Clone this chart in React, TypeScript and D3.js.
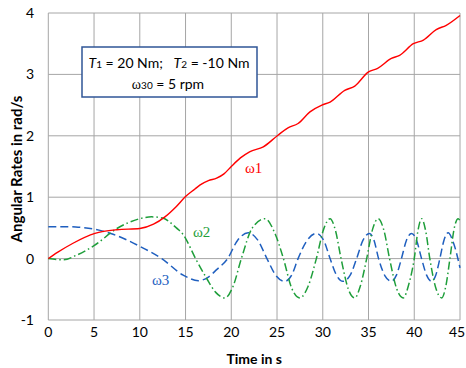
import React from "react";
import * as d3 from "d3";

const xTicks = [0, 5, 10, 15, 20, 25, 30, 35, 40, 45];
const yTicks = [-1, 0, 1, 2, 3, 4];

const tW1 = [0, 1, 2.7, 5.1, 7.5, 10, 11.5, 12.75, 14, 15, 16, 16.6, 17.5, 18.4, 19.2, 20, 21, 22, 23.5, 25.1, 26.2, 27.3, 28.6, 29.9, 30.8, 32.4, 33.5, 35, 36, 37.5, 38.4, 39.9, 41, 42.4, 43.5, 45];
const w1 = [0, 0.1, 0.25, 0.41, 0.47, 0.49, 0.56, 0.68, 0.85, 1.01, 1.13, 1.2, 1.27, 1.31, 1.38, 1.5, 1.64, 1.74, 1.82, 2.01, 2.13, 2.2, 2.39, 2.5, 2.55, 2.74, 2.81, 3.04, 3.1, 3.26, 3.31, 3.5, 3.56, 3.73, 3.8, 3.96];

const tW2 = [0, 1.7, 3, 5, 7.5, 10, 11.3, 12.5, 14, 14.75, 15, 16.1, 17.3, 18.3, 19.3, 20.2, 21.1, 22.3, 23.7, 24.8, 25.7, 26.6, 27.5, 28.4, 29.3, 30.1, 30.8, 31.4, 32.0, 32.8, 33.5, 34.1, 34.8, 35.45, 36.05, 36.7, 37.3, 38.1, 38.8, 39.4, 40.0, 40.4, 40.8, 41.25, 41.7, 42.4, 43.0, 43.45, 43.9, 44.35, 44.8, 45];
const w2 = [0, -0.02, 0.05, 0.21, 0.49, 0.65, 0.68, 0.66, 0.5, 0.39, 0.33, 0, -0.32, -0.55, -0.64, -0.45, 0, 0.5, 0.65, 0.4, 0, -0.48, -0.64, -0.45, 0, 0.48, 0.65, 0.45, 0, -0.5, -0.64, -0.45, 0, 0.48, 0.65, 0.45, 0, -0.5, -0.64, -0.42, 0, 0.45, 0.65, 0.45, 0, -0.5, -0.64, -0.45, 0, 0.48, 0.65, 0.62];

const tW3 = [0, 2, 3, 5, 7, 10, 12.4, 14.75, 16.4, 17.5, 18.4, 19.6, 20.7, 21.85, 22.9, 23.9, 24.9, 25.85, 26.6, 27.3, 28.3, 29.3, 30.1, 30.8, 31.5, 32.2, 33.0, 33.7, 34.4, 35.1, 35.6, 36.1, 36.8, 37.5, 38.05, 38.6, 39.15, 39.7, 40.25, 40.8, 41.35, 41.9, 42.35, 42.8, 43.25, 43.7, 44.3, 45];
const w3 = [0.52, 0.52, 0.515, 0.48, 0.4, 0.2, 0, -0.27, -0.36, -0.3, -0.18, 0, 0.3, 0.42, 0.3, 0, -0.28, -0.37, -0.27, 0, 0.3, 0.41, 0.3, 0, -0.27, -0.37, -0.27, 0, 0.3, 0.41, 0.3, 0, -0.28, -0.37, -0.27, 0, 0.3, 0.41, 0.3, 0, -0.27, -0.37, -0.27, 0, 0.3, 0.42, 0.25, -0.15];

const W = 466, H = 368;
const left = 48.3, right = 460, top = 13, bottom = 320;

export default function App() {
  const x = d3.scaleLinear().domain([0, 45]).range([left, right]);
  const y = d3.scaleLinear().domain([-1, 4]).range([bottom, top]);
  const mk = (ts: number[], vs: number[]) =>
    d3.line<number>().x((_, i) => x(ts[i])).y((v) => y(v)).curve(d3.curveMonotoneX)(vs) || "";
  const font = "Lato, 'Open Sans', sans-serif";
  return (
    <svg width={W} height={H} style={{ position: "absolute", left: 0, top: 0, background: "#fff" }}>
      <g stroke="#a6a6a6" strokeWidth={1}>
        {xTicks.map((t) => (
          <line key={"x" + t} x1={x(t)} x2={x(t)} y1={top} y2={bottom} />
        ))}
        {yTicks.map((t) => (
          <line key={"y" + t} x1={left} x2={right} y1={y(t)} y2={y(t)} />
        ))}
      </g>
      <g fontFamily={font} fontSize={14} fill="#000">
        {xTicks.map((t) => (
          <text key={"xl" + t} x={Math.min(x(t), W - 9)} y={337} textAnchor="middle">{t}</text>
        ))}
        {yTicks.map((t) => (
          <text key={"yl" + t} x={34} y={y(t) + 5} textAnchor="end">{t}</text>
        ))}
        <text x={(left + right) / 2} y={364} textAnchor="middle" fontWeight="bold">Time in s</text>
        <text transform={`translate(22,169) rotate(-90)`} textAnchor="middle" fontWeight="bold" fontSize={15}>
          Angular Rates in rad/s
        </text>
      </g>
      <path d={mk(tW3, w3)} fill="none" stroke="#1f5fbf" strokeWidth={1.5} strokeDasharray="8,4" />
      <path d={mk(tW2, w2)} fill="none" stroke="#1e9e3a" strokeWidth={1.5} strokeDasharray="8,3,1.5,3" />
      <path d={mk(tW1, w1)} fill="none" stroke="#ff0000" strokeWidth={1.4} />
      <g fontFamily="'Liberation Serif', 'Times New Roman', serif" fontSize={15}>
        <text x={245} y={173} fill="#ff0000">ω1</text>
        <text x={193} y={237} fill="#1e9e3a">ω2</text>
        <text x={152} y={285} fill="#1f5fbf">ω3</text>
      </g>
      <rect x={82} y={47} width={175} height={50} fill="#fff" stroke="#2f5597" strokeWidth={1.5} />
      <g fontFamily={font} fontSize={14} fill="#000">
        <text x={169} y={68} textAnchor="middle" style={{ whiteSpace: "pre" }}>
          <tspan fontStyle="italic">T</tspan>
          <tspan fontSize={10}>1</tspan>
          <tspan>{" = 20 Nm;   "}</tspan>
          <tspan fontStyle="italic">T</tspan>
          <tspan fontSize={10}>2</tspan>
          <tspan>{" = -10 Nm"}</tspan>
        </text>
        <text x={168} y={89} textAnchor="middle" style={{ whiteSpace: "pre" }}>
          <tspan fontFamily="'Liberation Serif', serif">ω</tspan>
          <tspan fontSize={10}>30</tspan>
          <tspan>{" = 5 rpm"}</tspan>
        </text>
      </g>
    </svg>
  );
}
